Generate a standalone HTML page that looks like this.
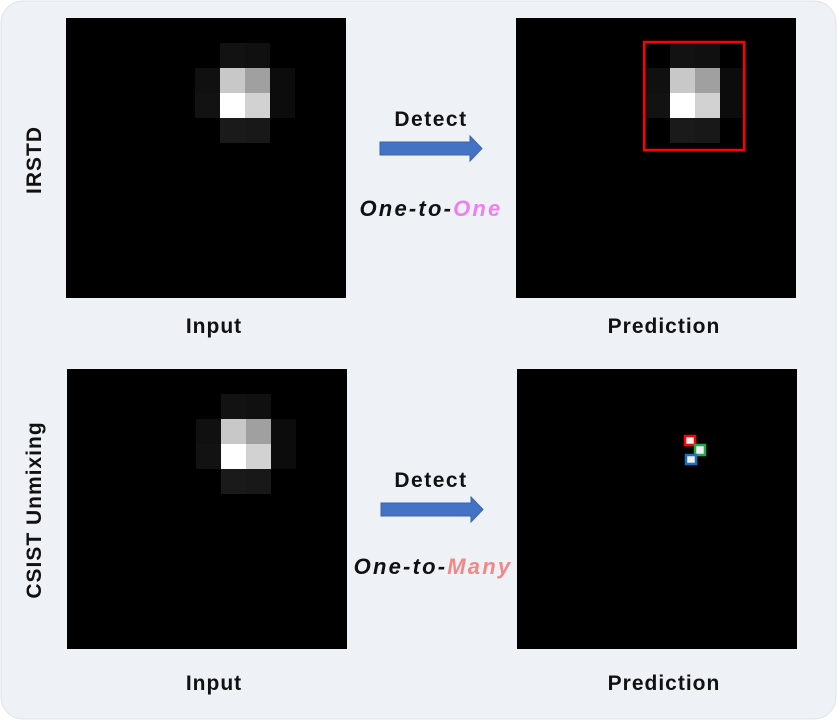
<!DOCTYPE html>
<html><head><meta charset="utf-8"><style>
body{margin:0;width:837px;height:720px;background:#fff;overflow:hidden;font-family:"Liberation Sans",sans-serif}
</style></head><body>
<svg width="837" height="720" id="svg">
<rect x="1" y="1" width="835" height="718" rx="22" fill="#eef2f7" stroke="#dfe4ea"/>
<g id="imgs"></g>
<rect x="644" y="42" width="100" height="108" fill="none" stroke="#ff0000" stroke-width="2.5"/>
<rect x="685" y="436" width="10" height="9" fill="#eee" stroke="#ff0000" stroke-width="2.5"/>
<rect x="695" y="445" width="10" height="10" fill="#eee" stroke="#1faa50" stroke-width="2.5"/>
<rect x="686" y="455" width="10" height="9" fill="#eee" stroke="#1a6fc0" stroke-width="2.5"/>
<g><polygon points="380,142 470,142 470,136 482,148.5 470,161 470,155 380,155" fill="#4472c4" stroke="#3a62a8"/></g>
<g><polygon points="381,503 471,503 471,497 483,509.5 471,522 471,516 381,516" fill="#4472c4" stroke="#3a62a8"/></g>
<g font-weight="bold" font-size="21" fill="#111" text-anchor="middle">
<text x="431" y="126" letter-spacing="1.5">Detect</text>
<text x="431" y="487" letter-spacing="1.5">Detect</text>
<text x="214" y="333" letter-spacing="1">Input</text>
<text x="664" y="333" letter-spacing="1">Prediction</text>
<text x="214" y="690" letter-spacing="1">Input</text>
<text x="664" y="690" letter-spacing="1">Prediction</text>
<text x="431" y="216" font-style="italic" font-size="22" letter-spacing="2.2">One-to-<tspan fill="#f07ef0">One</tspan></text>
<text x="433" y="574" font-style="italic" font-size="22" letter-spacing="2.2">One-to-<tspan fill="#f08888">Many</tspan></text>
<text transform="translate(41,160) rotate(-90)" letter-spacing="1">IRSTD</text>
<text transform="translate(41,510) rotate(-90)" letter-spacing="1">CSIST Unmixing</text>
</g>
</svg>
<script>
const imgOrigins=[[66,18,"input-top"],[516,18,"prediction-top"],[67,369,"input-bottom"],[517,369,"prediction-bottom"]];
const cellCols=[5,6,7,8];
const cellRows=[1,2,3,4];
const intensities=[[0,18,16,0],[16,200,160,12],[18,255,210,12],[0,26,24,0]];
const ns="http://www.w3.org/2000/svg";
const g=document.getElementById('imgs');
imgOrigins.forEach((o,k)=>{
 const r=document.createElementNS(ns,'rect');
 r.setAttribute('x',o[0]);r.setAttribute('y',o[1]);r.setAttribute('width',280);r.setAttribute('height',280);r.setAttribute('fill','#000');
 
 
 g.appendChild(r);
 if(k===3) return;
 cellRows.forEach((row,i)=>cellCols.forEach((col,j)=>{
  const v=intensities[i][j];
  const c=document.createElementNS(ns,'rect');
  c.setAttribute('x',o[0]+4+col*25);c.setAttribute('y',o[1]+row*25);
  c.setAttribute('width',25);c.setAttribute('height',25);
  c.setAttribute('fill',`rgb(${v},${v},${v})`);
  
  
  g.appendChild(c);
 }));
});
</script>
</body></html>
